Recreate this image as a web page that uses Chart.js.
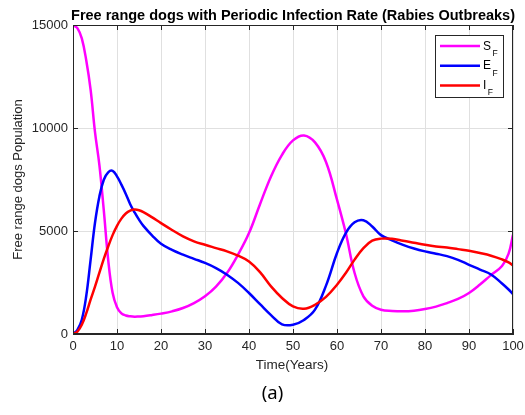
<!DOCTYPE html>
<html>
<head>
<meta charset="utf-8">
<script src="https://cdn.jsdelivr.net/npm/chart.js@4.4.1/dist/chart.umd.min.js"></script>
<style>
html,body{margin:0;padding:0;background:#fff;}
canvas{display:block;}
</style>
</head>
<body>
<canvas id="c" width="525" height="415"></canvas>
<script>
const years = [0,1,2,3,4,5,6,7,8,9,10,11,12,13,14,15,16,18,20,22.5,25,27.5,30,32.5,35,37.5,40,42.5,45,47.5,50,52.5,55,57.5,60,62,64,66,68,70,72.5,75,77.5,80,82.5,85,87.5,90,92.5,95,97.5,99,100];
const susceptible = [15000,14850,14350,13300,11860,9800,8200,6000,3600,2000,1300,1000,900,860,840,850,860,920,990,1100,1260,1500,1830,2300,2960,3850,4900,6300,7650,8700,9400,9640,9300,8350,6520,4900,2960,1830,1370,1180,1120,1100,1130,1210,1330,1500,1700,1990,2400,2860,3300,3900,4820];
const exposed = [0,200,690,1830,3600,5400,6680,7490,7850,7920,7650,7250,6800,6300,5900,5550,5250,4780,4380,4080,3850,3650,3450,3200,2880,2480,1990,1450,920,470,450,680,1180,2350,3930,4900,5420,5520,5220,4800,4550,4330,4150,4010,3900,3780,3600,3360,3130,2890,2450,2160,1940];
const infected = [0,120,450,1000,1670,2300,2980,3650,4250,4800,5250,5600,5850,5990,6040,6010,5920,5660,5380,5050,4740,4500,4330,4170,4010,3800,3520,3000,2310,1750,1340,1230,1420,1800,2390,2960,3610,4170,4530,4630,4620,4530,4430,4330,4250,4200,4120,4040,3930,3800,3620,3480,3330];
const seriesNames = ['S','E','I'];
const seriesSub = 'F';
const seriesColors = ['#ff00ff','#0000ff','#ff0000'];
const xTicks = [0,10,20,30,40,50,60,70,80,90,100];
const yTicks = [0,5000,10000,15000];
const titleText = 'Free range dogs with Periodic Infection Rate (Rabies Outbreaks)';
const xTitle = 'Time(Years)';
const yTitle = 'Free range dogs Population';
const caption = '(a)';

function pts(arr){ return years.map((t,i)=>({x:t,y:arr[i]})); }
const allSeries = [susceptible, exposed, infected];

const axisColor = '#262626';
const tickFont = {family:'Liberation Sans, Arial, sans-serif', size:13};

const decor = {
  id:'decor',
  afterDatasetsDraw(chart){
    const ctx = chart.ctx, a = chart.chartArea;
    const xs = chart.scales.x, ys = chart.scales.y;
    ctx.save();
    ctx.strokeStyle = axisColor; ctx.lineWidth = 1;
    ctx.strokeRect(Math.round(a.left)+0.5, Math.round(a.top)+0.5, Math.round(a.right-a.left)-1, Math.round(a.bottom-a.top)-1);
    ctx.beginPath();
    xTicks.forEach(v=>{
      const px = Math.round(xs.getPixelForValue(v))+0.5;
      ctx.moveTo(px,a.bottom); ctx.lineTo(px,a.bottom-5);
      ctx.moveTo(px,a.top); ctx.lineTo(px,a.top+5);
    });
    yTicks.forEach(v=>{
      const py = Math.round(ys.getPixelForValue(v))+0.5;
      ctx.moveTo(a.left,py); ctx.lineTo(a.left+5,py);
      ctx.moveTo(a.right,py); ctx.lineTo(a.right-5,py);
    });
    ctx.stroke();
    const lx0 = 435.5, ly0 = 35.5, lw = 68, lh = 62;
    ctx.fillStyle = '#fff'; ctx.fillRect(lx0,ly0,lw,lh);
    ctx.strokeStyle = axisColor; ctx.strokeRect(lx0,ly0,lw,lh);
    seriesNames.forEach((n,i)=>{
      const ry = 46 + i*19.7;
      ctx.strokeStyle = seriesColors[i]; ctx.lineWidth = 2.5;
      ctx.beginPath(); ctx.moveTo(440,ry); ctx.lineTo(480,ry); ctx.stroke();
      ctx.fillStyle = '#000'; ctx.textAlign='left'; ctx.textBaseline='alphabetic';
      ctx.font = '12px "Liberation Sans", Arial, sans-serif';
      ctx.fillText(n, 483, ry+3.5);
      const w = ctx.measureText(n).width;
      ctx.font = '8.5px "Liberation Sans", Arial, sans-serif';
      ctx.fillText(seriesSub, 483+w+1.5, ry+10);
    });
    ctx.fillStyle = '#000';
    ctx.font = 'bold 14.5px "Liberation Sans", Arial, sans-serif';
    ctx.textAlign = 'center'; ctx.textBaseline = 'alphabetic';
    ctx.fillText(titleText, (a.left+a.right)/2, 20);
    ctx.fillStyle = axisColor;
    ctx.font = '13.5px "Liberation Sans", Arial, sans-serif';
    ctx.fillText(xTitle, (a.left+a.right)/2 - 1, 369);
    ctx.save();
    ctx.translate(22, (a.top+a.bottom)/2);
    ctx.rotate(-Math.PI/2);
    ctx.font = '13px "Liberation Sans", Arial, sans-serif';
    ctx.textBaseline = 'alphabetic';
    ctx.fillText(yTitle, 0, 0);
    ctx.restore();
    ctx.fillStyle = '#000';
    ctx.font = '18.5px "Noto Sans", "DejaVu Sans", sans-serif';
    ctx.textAlign = 'center';
    ctx.fillText(caption, 272.5, 399);
    ctx.restore();
  }
};

new Chart(document.getElementById('c'), {
  type:'line',
  data:{
    datasets: allSeries.map((arr,i)=>({
      label: seriesNames[i]+seriesSub,
      data: pts(arr),
      borderColor: seriesColors[i],
      backgroundColor: seriesColors[i],
      borderWidth: 2.5,
      pointRadius: 0,
      fill: false,
      tension: 0.4,
      order: 3-i
    }))
  },
  options:{
    responsive:false, animation:false, devicePixelRatio:1,
    layout:{padding:{top:25,right:12,left:0,bottom:0}},
    plugins:{legend:{display:false}, title:{display:false}, tooltip:{enabled:false}},
    scales:{
      x:{type:'linear', min:0, max:100,
         afterBuildTicks(s){ s.ticks = xTicks.map(v=>({value:v})); },
         ticks:{font:tickFont, color:axisColor, padding:5, maxRotation:0, autoSkip:false, callback:v=>String(v)},
         grid:{color:'#e0e0e0', drawTicks:false, lineWidth:1},
         border:{display:true, color:axisColor, width:1},
         afterFit(s){ s.height = 81; s.paddingLeft = 0; s.paddingRight = 0; }},
      y:{type:'linear', min:0, max:15000,
         afterBuildTicks(s){ s.ticks = yTicks.map(v=>({value:v})); },
         ticks:{font:tickFont, color:axisColor, padding:5, autoSkip:false, callback:v=>String(v)},
         grid:{color:'#e0e0e0', drawTicks:false, lineWidth:1},
         border:{display:true, color:axisColor, width:1},
         afterFit(s){ s.width = 73; s.paddingTop = 0; s.paddingBottom = 0; }}
    }
  },
  plugins:[decor]
});
</script>
</body>
</html>
